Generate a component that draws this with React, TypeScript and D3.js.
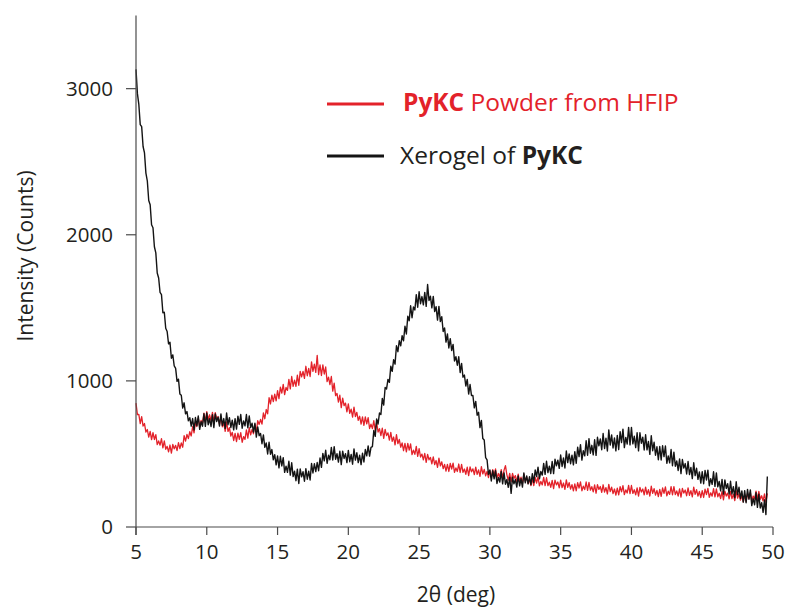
import React from "react";
import * as d3 from "d3";

// Scan parameters (2θ start and step, degrees)
const scanStart = 5.0;
const scanStep = 0.1;

// Xerogel of PyKC (black trace), counts, one value per 0.1° step from 5.0° to 49.6°
const xerogel: number[] = [
  3132, 2966, 2892, 2754, 2740, 2604, 2560, 2422, 2368, 2235,
  2206, 2069, 2048, 1918, 1876, 1738, 1704, 1605, 1590, 1466,
  1470, 1360, 1338, 1253, 1264, 1155, 1178, 1102, 1086, 997,
  1012, 911, 902, 814, 850, 774, 790, 727, 748, 690,
  742, 665, 749, 693, 760, 668, 721, 690, 775, 689,
  780, 700, 741, 688, 768, 680, 774, 721, 752, 691,
  774, 695, 742, 675, 780, 700, 748, 681, 731, 665,
  742, 670, 759, 703, 770, 676, 726, 692, 770, 679,
  760, 680, 710, 650, 710, 615, 685, 625, 640, 570,
  630, 545, 575, 500, 580, 498, 530, 460, 495, 425,
  487, 405, 484, 418, 475, 374, 416, 374, 450, 355,
  440, 345, 382, 317, 396, 298, 397, 343, 379, 313,
  399, 327, 382, 322, 435, 370, 433, 379, 441, 385,
  472, 408, 504, 453, 525, 436, 491, 460, 545, 459,
  550, 464, 501, 444, 518, 427, 519, 469, 502, 441,
  524, 447, 497, 430, 535, 458, 508, 441, 491, 427,
  505, 445, 530, 487, 555, 485, 545, 550, 660, 620,
  740, 705, 780, 770, 880, 835, 955, 945, 1010, 990,
  1100, 1065, 1145, 1115, 1240, 1200, 1275, 1240, 1310, 1275,
  1374, 1321, 1442, 1412, 1514, 1432, 1506, 1485, 1590, 1504,
  1610, 1528, 1577, 1520, 1606, 1510, 1660, 1550, 1579, 1500,
  1578, 1474, 1508, 1416, 1510, 1406, 1440, 1338, 1362, 1265,
  1322, 1225, 1289, 1208, 1250, 1136, 1166, 1107, 1165, 1057,
  1120, 1025, 1040, 965, 1010, 910, 975, 900, 900, 815,
  860, 765, 785, 680, 730, 605, 595, 475, 460, 360,
  390, 315, 385, 330, 385, 298, 340, 307, 380, 295,
  370, 293, 325, 272, 340, 230, 340, 295, 325, 273,
  350, 282, 330, 273, 370, 302, 350, 295, 345, 290,
  365, 305, 390, 345, 410, 330, 380, 355, 435, 360,
  450, 372, 416, 366, 448, 365, 464, 419, 457, 401,
  493, 414, 473, 404, 520, 441, 500, 433, 492, 425,
  516, 436, 546, 482, 564, 458, 522, 487, 590, 491,
  605, 505, 559, 494, 597, 490, 614, 556, 603, 529,
  640, 537, 608, 520, 665, 561, 630, 541, 610, 521,
  627, 530, 653, 578, 670, 543, 613, 568, 682, 562,
  682, 569, 621, 543, 645, 521, 645, 573, 615, 527,
  631, 528, 586, 497, 625, 522, 580, 491, 549, 460,
  551, 459, 556, 482, 554, 436, 487, 439, 530, 419,
  512, 416, 452, 387, 466, 365, 462, 403, 434, 363,
  448, 359, 408, 331, 440, 352, 402, 326, 377, 300,
  379, 296, 387, 322, 389, 282, 331, 292, 378, 278,
  370, 275, 312, 247, 326, 225, 322, 264, 296, 226,
  313, 226, 276, 200, 310, 222, 272, 196, 247, 170,
  249, 166, 257, 190, 254, 146, 194, 152, 235, 134,
  225, 130, 167, 100, 186, 85, 345,
];

// PyKC powder from HFIP (red trace), counts, one value per 0.1° step from 5.0° to 49.6°
const powder: number[] = [
  848, 769, 771, 708, 755, 691, 708, 650, 667, 615,
  654, 598, 645, 599, 632, 564, 589, 560, 605, 541,
  590, 532, 552, 514, 561, 505, 565, 535, 559, 523,
  578, 537, 576, 546, 625, 588, 633, 605, 652, 623,
  686, 644, 718, 688, 746, 686, 729, 712, 780, 721,
  790, 735, 768, 728, 784, 718, 783, 740, 756, 702,
  752, 686, 712, 654, 720, 654, 680, 622, 648, 592,
  641, 584, 643, 600, 646, 580, 619, 600, 665, 608,
  680, 630, 668, 638, 704, 650, 728, 702, 736, 704,
  781, 741, 804, 774, 885, 842, 903, 858, 909, 863,
  933, 879, 957, 916, 976, 906, 955, 935, 1010, 945,
  1030, 963, 1005, 962, 1040, 970, 1065, 1028, 1065, 1017,
  1100, 1035, 1085, 1030, 1130, 1065, 1115, 1058, 1175, 1043,
  1110, 1037, 1110, 1047, 1095, 995, 1025, 975, 1030, 930,
  985, 899, 914, 854, 902, 817, 882, 831, 848, 788,
  842, 778, 807, 752, 820, 756, 785, 730, 758, 704,
  754, 696, 753, 706, 748, 674, 704, 674, 728, 658,
  716, 650, 673, 626, 676, 606, 668, 626, 644, 594,
  648, 586, 616, 562, 632, 570, 600, 546, 576, 522,
  572, 514, 572, 526, 568, 495, 526, 497, 552, 483,
  537, 479, 499, 459, 503, 442, 497, 460, 476, 432,
  480, 427, 455, 408, 471, 418, 446, 399, 428, 383,
  429, 380, 435, 397, 437, 374, 404, 380, 431, 373,
  428, 374, 397, 361, 409, 352, 411, 378, 398, 358,
  410, 360, 391, 347, 413, 363, 394, 350, 381, 338,
  386, 338, 393, 355, 397, 335, 366, 342, 393, 335,
  389, 420, 357, 320, 367, 309, 367, 333, 352, 311,
  362, 311, 341, 296, 362, 312, 342, 297, 327, 283,
  331, 283, 339, 301, 343, 282, 312, 288, 340, 283,
  337, 283, 307, 271, 319, 262, 321, 288, 308, 268,
  320, 270, 301, 257, 323, 272, 303, 259, 290, 247,
  295, 248, 304, 267, 309, 248, 279, 256, 308, 251,
  306, 252, 276, 240, 288, 231, 290, 257, 277, 237,
  289, 239, 270, 226, 292, 242, 273, 229, 260, 218,
  266, 220, 276, 240, 283, 222, 254, 233, 285, 229,
  284, 230, 255, 220, 268, 212, 271, 239, 260, 220,
  273, 224, 256, 212, 279, 230, 262, 218, 250, 208,
  257, 210, 267, 231, 274, 213, 245, 223, 276, 220,
  276, 222, 247, 212, 261, 205, 264, 232, 253, 214,
  267, 217, 249, 206, 273, 223, 255, 211, 243, 201,
  249, 202, 259, 222, 264, 203, 234, 211, 263, 206,
  261, 207, 231, 195, 243, 186, 245, 212, 232, 192,
  244, 194, 225, 181, 247, 197, 228, 184, 215, 172,
  220, 174, 230, 194, 237, 178, 212, 191, 245, 189,
  244, 190, 214, 178, 226, 170, 230,
];

const xTicks = [5, 10, 15, 20, 25, 30, 35, 40, 45, 50];
const yTicks = [0, 1000, 2000, 3000];
const xDomain = [5, 50];
const yDomain = [0, 3500];

const RED = "#e3222a";
const BLACK = "#141414";
const TEXT = "#231f20";
const AXIS = "#4a4a4a";
const FONT = "'Open Sans', 'Noto Sans', sans-serif";

export default function App() {
  const W = 786;
  const H = 610;
  const left = 136;
  const right = 773;
  const top = 15.6;
  const bottom = 527;

  const x = d3.scaleLinear().domain(xDomain).range([left, right]);
  const y = d3.scaleLinear().domain(yDomain).range([bottom, top]);

  const line = d3
    .line<number>()
    .x((_, i) => x(scanStart + i * scanStep))
    .y((d) => y(d));

  return (
    <svg
      width={W}
      height={H}
      style={{ position: "absolute", left: 0, top: 0, background: "#fff" }}
      fontFamily={FONT}
    >
      <rect width={W} height={H} fill="#fff" />
      {/* traces */}
      <path d={line(powder) || ""} fill="none" stroke={RED} strokeWidth={1.3} strokeLinejoin="round" />
      <path d={line(xerogel) || ""} fill="none" stroke={BLACK} strokeWidth={1.4} strokeLinejoin="round" />

      {/* y axis */}
      <line x1={left} x2={left} y1={top} y2={bottom + 8} stroke={AXIS} strokeWidth={1.2} />
      {yTicks.map((t) => (
        <g key={"y" + t}>
          <line x1={left - 10} x2={left} y1={y(t)} y2={y(t)} stroke={AXIS} strokeWidth={1.2} />
          <text x={left - 23} y={y(t)} dy="0.35em" textAnchor="end" fontSize={20.5} fill={TEXT}>
            {t}
          </text>
        </g>
      ))}

      {/* x axis */}
      <line x1={left} x2={right} y1={bottom} y2={bottom} stroke={AXIS} strokeWidth={1.2} />
      {xTicks.map((t) => (
        <g key={"x" + t}>
          <line x1={x(t)} x2={x(t)} y1={bottom} y2={bottom + 8} stroke={AXIS} strokeWidth={1.2} />
          <text x={x(t)} y={bottom + 25} dy="0.35em" textAnchor="middle" fontSize={20.5} fill={TEXT}>
            {t}
          </text>
        </g>
      ))}

      {/* axis titles */}
      <text x={456} y={602} textAnchor="middle" fontSize={21} fill={TEXT}>
        2θ (deg)
      </text>
      <text
        transform={`translate(33, 256) rotate(-90)`}
        textAnchor="middle"
        fontSize={21}
        fill={TEXT}
      >
        Intensity (Counts)
      </text>

      {/* legend */}
      <line x1={327} x2={384} y1={104} y2={104} stroke={RED} strokeWidth={3} />
      <text x={403} y={111} fontSize={24.5} fill={RED}>
        <tspan fontWeight="bold">PyKC</tspan>
        <tspan> Powder from HFIP</tspan>
      </text>
      <line x1={327} x2={384} y1={156} y2={156} stroke={BLACK} strokeWidth={3} />
      <text x={400} y={164} fontSize={24.5} fill={TEXT}>
        <tspan>Xerogel of </tspan>
        <tspan fontWeight="bold">PyKC</tspan>
      </text>
    </svg>
  );
}
